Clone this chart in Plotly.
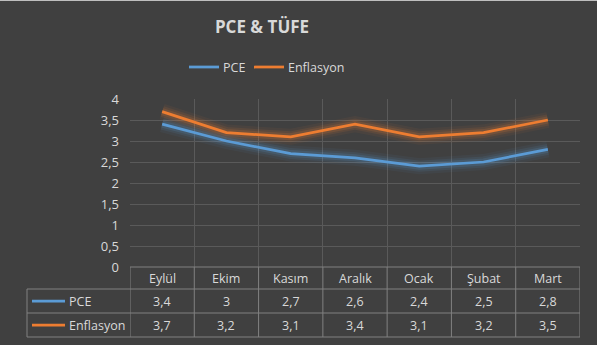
import plotly.graph_objects as go

months = ["Eylül", "Ekim", "Kasım", "Aralık", "Ocak", "Şubat", "Mart"]
pce = [3.4, 3.0, 2.7, 2.6, 2.4, 2.5, 2.8]
enflasyon = [3.7, 3.2, 3.1, 3.4, 3.1, 3.2, 3.5]
series = [("PCE", pce, "#5B9BD5"), ("Enflasyon", enflasyon, "#ED7D31")]
yticks = [0, 0.5, 1, 1.5, 2, 2.5, 3, 3.5, 4]

W, H = 597, 345
px0, px1 = 130, 580
py_top, py_bot = 99, 267
row_lines = [267, 289, 313, 337]
leg_left = 27
top_legend_x = [189, 254]

def fx(p):
    return p / W

def fy(p):
    return 1 - p / H

def fmt(v):
    s = ("%g" % v)
    return s.replace(".", ",")

txt = "#D9D9D9"
grid = "#5A5A5A"
border = "#808080"
font = "Open Sans"

fig = go.Figure()
for name, vals, col in series:
    for w, op in [(16, 0.06), (11, 0.10), (7, 0.16)]:
        fig.add_trace(go.Scatter(x=months, y=vals, mode="lines", line=dict(color=col, width=w),
                                 opacity=op, showlegend=False, hoverinfo="skip"))
for name, vals, col in series:
    fig.add_trace(go.Scatter(x=months, y=vals, mode="lines", name=name, showlegend=False,
                             line=dict(color=col, width=2.75)))

shapes = []
# table horizontal lines
shapes.append(dict(type="line", xref="paper", yref="paper", x0=fx(px0), x1=fx(px1),
                   y0=fy(row_lines[0]), y1=fy(row_lines[0]), line=dict(color=border, width=1)))
for yl in row_lines[1:]:
    shapes.append(dict(type="line", xref="paper", yref="paper", x0=fx(leg_left), x1=fx(px1),
                       y0=fy(yl), y1=fy(yl), line=dict(color=border, width=1)))
# table vertical lines
shapes.append(dict(type="line", xref="paper", yref="paper", x0=fx(leg_left), x1=fx(leg_left),
                   y0=fy(row_lines[1]), y1=fy(row_lines[3]), line=dict(color=border, width=1)))
for i in range(len(months) + 1):
    shapes.append(dict(type="line", xref="x", yref="paper", x0=i - 0.5, x1=i - 0.5,
                       y0=fy(row_lines[0]), y1=fy(row_lines[3]), line=dict(color=border, width=1)))
# top light strip
shapes.append(dict(type="line", xref="paper", yref="paper", x0=0, x1=1, y0=1, y1=1,
                   line=dict(color="#BFBFBF", width=2)))

ann = []
for i, m in enumerate(months):
    ann.append(dict(x=m, xref="x", y=fy((row_lines[0] + row_lines[1]) / 2), yref="paper",
                    text=m, showarrow=False, yanchor="middle",
                    font=dict(color=txt, size=12.5, family=font)))
for r, (name, vals, col) in enumerate(series):
    yc = fy((row_lines[r + 1] + row_lines[r + 2]) / 2)
    for i, v in enumerate(vals):
        ann.append(dict(x=months[i], xref="x", y=yc, yref="paper", text=fmt(v), showarrow=False,
                        yanchor="middle", font=dict(color=txt, size=12.5, family=font)))
    shapes.append(dict(type="line", xref="paper", yref="paper", x0=fx(32), x1=fx(65), y0=yc, y1=yc,
                       line=dict(color=col, width=2.75)))
    ann.append(dict(x=fx(67), xref="paper", y=yc, yref="paper", text=name, showarrow=False,
                    xanchor="left", yanchor="middle", font=dict(color=txt, size=12.5, family=font)))
    # top legend
    lx = top_legend_x[r]
    shapes.append(dict(type="line", xref="paper", yref="paper", x0=fx(lx), x1=fx(lx + 30),
                       y0=fy(67), y1=fy(67), line=dict(color=col, width=2.75)))
    ann.append(dict(x=fx(lx + 32), xref="paper", y=fy(67), yref="paper", text=name, showarrow=False,
                    xanchor="left", yanchor="middle", font=dict(color=txt, size=12.5, family=font)))

fig.update_layout(
    width=W, height=H, margin=dict(l=0, r=0, t=0, b=0, pad=0, autoexpand=False),
    paper_bgcolor="#404040", plot_bgcolor="#404040",
    separators=",.",
    title=dict(text="<b>PCE &amp; TÜFE</b>", x=262 / W, xanchor="center", y=fy(27), yanchor="middle",
               font=dict(color=txt, size=17, family=font)),
    showlegend=False,
    xaxis=dict(domain=[fx(px0), fx(px1)], type="category", range=[-0.5, 6.5], tickson="boundaries",
               showgrid=True, gridcolor=grid, gridwidth=1, showticklabels=False, ticks="",
               showline=False, zeroline=False, fixedrange=True, automargin=False),
    yaxis=dict(domain=[fy(py_bot), fy(py_top)], range=[0, 4], tickvals=yticks, showgrid=True,
               gridcolor=grid, gridwidth=1, zeroline=False, showline=False, automargin=False,
               tickfont=dict(color=txt, size=13, family=font), ticklabelstandoff=10, fixedrange=True),
    shapes=shapes, annotations=ann,
)
fig.write_html("out.html")
